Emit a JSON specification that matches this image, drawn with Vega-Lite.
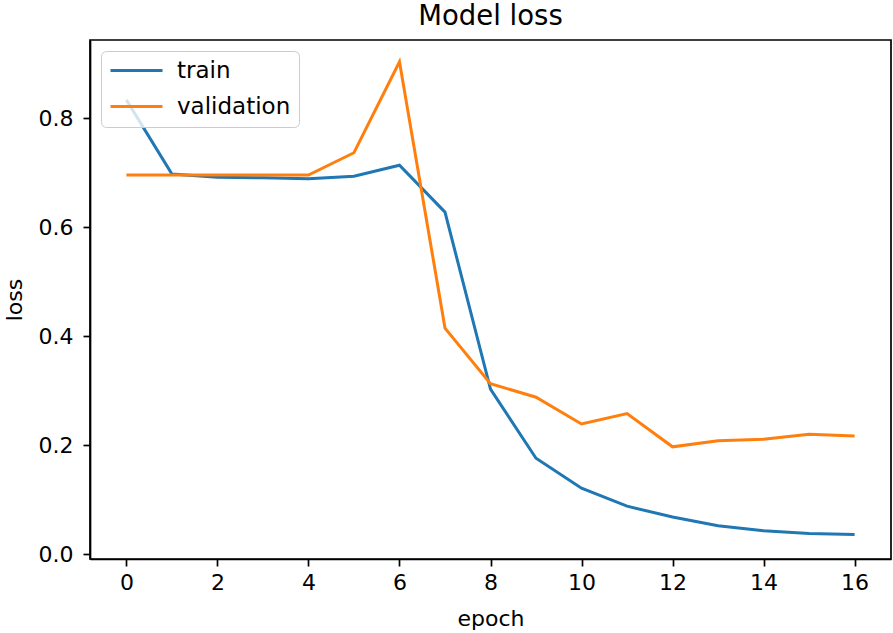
{
  "$schema": "https://vega.github.io/schema/vega-lite/v6.json",
  "width": 801,
  "height": 519,
  "autosize": {"type": "none"},
  "padding": {"left": 90, "top": 40, "right": 2, "bottom": 74},
  "background": "white",
  "title": {
    "text": "Model loss",
    "font": "DejaVu Sans",
    "fontSize": 27.5,
    "fontWeight": "normal",
    "color": "black",
    "anchor": "middle",
    "baseline": "alphabetic",
    "offset": -12
  },
  "config": {
    "view": {"stroke": "black", "strokeWidth": 1.7},
    "font": "DejaVu Sans",
    "axis": {
      "grid": false,
      "domainColor": "black",
      "domainWidth": 1.7,
      "tickColor": "black",
      "tickWidth": 1.7,
      "tickSize": 7,
      "labelFont": "DejaVu Sans",
      "labelFontSize": 22,
      "labelColor": "black",
      "titleFont": "DejaVu Sans",
      "titleFontSize": 22,
      "titleFontWeight": "normal",
      "titleColor": "black"
    }
  },
  "data": {
    "values": [
      {"epoch": 0, "loss": 0.834, "series": "train"},
      {"epoch": 1, "loss": 0.698, "series": "train"},
      {"epoch": 2, "loss": 0.692, "series": "train"},
      {"epoch": 3, "loss": 0.691, "series": "train"},
      {"epoch": 4, "loss": 0.689, "series": "train"},
      {"epoch": 5, "loss": 0.694, "series": "train"},
      {"epoch": 6, "loss": 0.714, "series": "train"},
      {"epoch": 7, "loss": 0.628, "series": "train"},
      {"epoch": 8, "loss": 0.303, "series": "train"},
      {"epoch": 9, "loss": 0.176, "series": "train"},
      {"epoch": 10, "loss": 0.121, "series": "train"},
      {"epoch": 11, "loss": 0.088, "series": "train"},
      {"epoch": 12, "loss": 0.068, "series": "train"},
      {"epoch": 13, "loss": 0.052, "series": "train"},
      {"epoch": 14, "loss": 0.043, "series": "train"},
      {"epoch": 15, "loss": 0.038, "series": "train"},
      {"epoch": 16, "loss": 0.036, "series": "train"},
      {"epoch": 0, "loss": 0.696, "series": "validation"},
      {"epoch": 1, "loss": 0.696, "series": "validation"},
      {"epoch": 2, "loss": 0.696, "series": "validation"},
      {"epoch": 3, "loss": 0.696, "series": "validation"},
      {"epoch": 4, "loss": 0.696, "series": "validation"},
      {"epoch": 5, "loss": 0.737, "series": "validation"},
      {"epoch": 6, "loss": 0.904, "series": "validation"},
      {"epoch": 7, "loss": 0.415, "series": "validation"},
      {"epoch": 8, "loss": 0.313, "series": "validation"},
      {"epoch": 9, "loss": 0.288, "series": "validation"},
      {"epoch": 10, "loss": 0.239, "series": "validation"},
      {"epoch": 11, "loss": 0.258, "series": "validation"},
      {"epoch": 12, "loss": 0.197, "series": "validation"},
      {"epoch": 13, "loss": 0.208, "series": "validation"},
      {"epoch": 14, "loss": 0.211, "series": "validation"},
      {"epoch": 15, "loss": 0.220, "series": "validation"},
      {"epoch": 16, "loss": 0.217, "series": "validation"}
    ]
  },
  "mark": {"type": "line", "strokeWidth": 3},
  "encoding": {
    "x": {
      "field": "epoch",
      "type": "quantitative",
      "scale": {"domain": [-0.8, 16.8], "nice": false, "zero": false},
      "axis": {"values": [0, 2, 4, 6, 8, 10, 12, 14, 16], "title": "epoch", "labelPadding": 6, "titlePadding": 15, "labelFlush": false}
    },
    "y": {
      "field": "loss",
      "type": "quantitative",
      "scale": {"domain": [-0.009, 0.944], "nice": false, "zero": false},
      "axis": {"values": [0, 0.2, 0.4, 0.6, 0.8], "format": ".1f", "title": "loss", "labelPadding": 10, "titlePadding": 12, "labelFlush": false}
    },
    "color": {
      "field": "series",
      "type": "nominal",
      "scale": {"domain": ["train", "validation"], "range": ["#1f77b4", "#ff7f0e"]},
      "legend": {
        "title": null,
        "orient": "none",
        "legendX": 11,
        "legendY": 11,
        "symbolType": "M-1,0H4.2",
        "symbolSize": 400,
        "symbolStrokeWidth": 3,
        "symbolFillColor": "transparent",
        "labelFont": "DejaVu Sans",
        "labelFontSize": 23,
        "labelColor": "black",
        "labelOffset": 45,
        "padding": 8,
        "rowPadding": 12,
        "fillColor": "rgba(255,255,255,0.8)",
        "strokeColor": "#cccccc",
        "cornerRadius": 5
      }
    }
  }
}
